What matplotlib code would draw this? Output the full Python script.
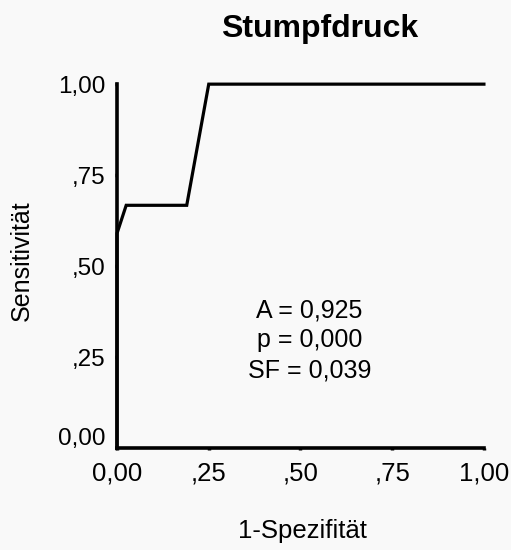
import matplotlib.pyplot as plt
from matplotlib.transforms import ScaledTranslation

# ROC-Kurve Stumpfdruck
fpr = [0.0, 0.0, 0.025, 0.19, 0.25, 1.0]
tpr = [0.0, 0.59, 0.667, 0.667, 1.0, 1.0]
tick_vals = [0.0, 0.25, 0.5, 0.75, 1.0]
tick_labels = ['0,00', ',25', ',50', ',75', '1,00']
stats = ['A = 0,925', 'p = 0,000', 'SF = 0,039']

plt.rcParams['font.family'] = ['Liberation Sans', 'DejaVu Sans']

fig = plt.figure(figsize=(5.11, 5.5), dpi=100, facecolor='#f9f9f9')
ax = fig.add_axes([0.229, 0.1855, 0.718, 0.6615])
ax.set_facecolor('#f9f9f9')

ax.plot(fpr, tpr, color='black', linewidth=2.3, solid_joinstyle='miter', clip_on=False)

ax.set_xlim(0, 1)
ax.set_ylim(0, 1)
ax.set_xticks(tick_vals)
ax.set_xticklabels(tick_labels)
ax.set_yticks(tick_vals)
ax.set_yticklabels(tick_labels)
ax.tick_params(length=1.5, width=2.5, colors='black')
ax.tick_params(axis='x', labelsize=18.5, pad=8)
ax.tick_params(axis='y', labelsize=17.5, pad=7)

for side in ['top', 'right']:
    ax.spines[side].set_visible(False)
for side in ['left', 'bottom']:
    ax.spines[side].set_linewidth(2.6)

# untere y-Beschriftung etwas anheben, damit sie nicht mit 0,00 der x-Achse kollidiert
lbl = ax.yaxis.get_major_ticks()[0].label1
lbl.set_transform(lbl.get_transform() + ScaledTranslation(0, 0.11, fig.dpi_scale_trans))

# Kennwerte, eine Zeile nach der anderen
for i, s in enumerate(stats):
    ax.text(0.525, 0.379 - i * 0.0835, s, transform=ax.transAxes,
            ha='center', va='center', fontsize=18)

fig.text(0.626, 0.9327, 'Stumpfdruck', ha='center', va='baseline',
         fontsize=23, fontweight='bold')
fig.text(0.591, 0.0218, '1-Spezifität', ha='center', va='baseline', fontsize=18.5)
fig.text(0.043, 0.5255, 'Sensitivität', ha='center', va='center',
         fontsize=18, rotation=90)

fig.savefig('out.png', dpi=100, facecolor=fig.get_facecolor())
